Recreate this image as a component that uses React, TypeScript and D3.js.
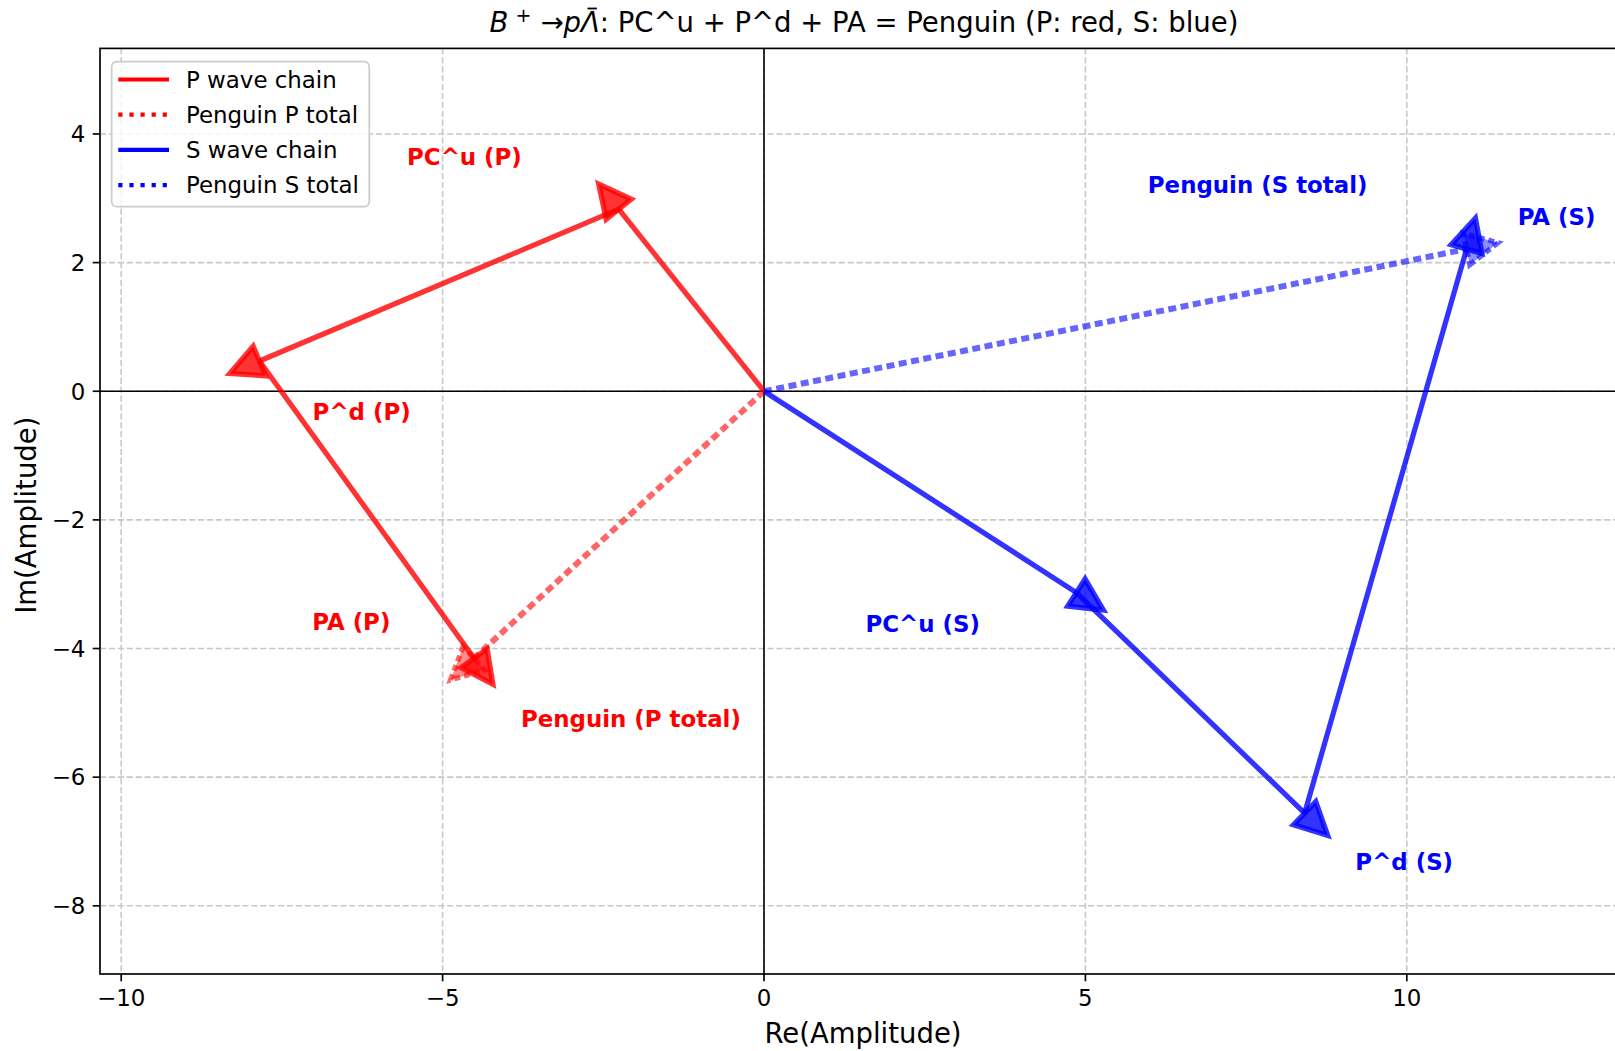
import React, { useLayoutEffect, useRef, useState } from 'react';
import * as d3 from 'd3';

const W = 1615;
const H = 1051;

const X_DOMAIN = [-10.33, 13.41];
const Y_DOMAIN = [-9.06, 5.33];
const X_TICKS = [-10, -5, 0, 5, 10];
const Y_TICKS = [-8, -6, -4, -2, 0, 2, 4];

// amplitude components (PC^u, P^d, PA)
const COMPONENTS = ['PC^u', 'P^d', 'PA'];
const P_RE = [-2.26, -5.59, 3.34];
const P_IM = [2.83, -2.36, -4.62];
const S_RE = [4.86, 3.55, 2.52];
const S_IM = [-3.13, -3.43, 8.77];

const LABEL_TEXT = ['PC^u (P)', 'P^d (P)', 'PA (P)', 'Penguin (P total)', 'PC^u (S)', 'P^d (S)', 'PA (S)', 'Penguin (S total)'];
const LABEL_X = [-4.66, -6.26, -6.42, -2.07, 2.47, 9.96, 12.33, 7.68];
const LABEL_Y = [3.64, -0.32, -3.58, -5.09, -3.61, -7.32, 2.71, 3.21];
const LABEL_COLOR = ['#ff0000', '#ff0000', '#ff0000', '#ff0000', '#0000ff', '#0000ff', '#0000ff', '#0000ff'];

const LEGEND_LABELS = ['P wave chain', 'Penguin P total', 'S wave chain', 'Penguin S total'];
const LEGEND_COLORS = ['#ff0000', '#ff0000', '#0000ff', '#0000ff'];
const LEGEND_DOTTED = [false, true, false, true];

const HEAD_WIDTH = 0.5;
const HEAD_LENGTH = 0.5;
const FONT = 'DejaVu Sans, Verdana, sans-serif';

const fmt = (v: number) => (v < 0 ? '\u2212' + Math.abs(v) : String(v));

export default function App() {
  const left = 100, right = 1626, top = 48.4, bottom = 974;
  const x = d3.scaleLinear().domain(X_DOMAIN).range([left, right]);
  const y = d3.scaleLinear().domain(Y_DOMAIN).range([bottom, top]);
  const k = x(1) - x(0);

  const titleRef = useRef<SVGTextElement | null>(null);
  const [bar, setBar] = useState<[number, number] | null>(null);
  useLayoutEffect(() => {
    const el = titleRef.current as any;
    if (el && el.getExtentOfChar) {
      try {
        const r = el.getExtentOfChar(4);
        setBar([r.x + r.width * 0.35, r.x + r.width * 0.85]);
      } catch (e) {
        /* ignore */
      }
    }
  }, []);

  const arrow = (x0: number, y0: number, x1: number, y1: number, color: string, dotted: boolean, key: string) => {
    const p0 = [x(x0), y(y0)];
    const p1 = [x(x1), y(y1)];
    const dx = p1[0] - p0[0];
    const dy = p1[1] - p0[1];
    const len = Math.hypot(dx, dy);
    const ux = dx / len, uy = dy / len;
    const px = -uy, py = ux;
    const hw = (HEAD_WIDTH / 2) * k;
    const hl = HEAD_LENGTH * k;
    const tip = [p1[0] + ux * hl, p1[1] + uy * hl];
    const b1 = [p1[0] + px * hw, p1[1] + py * hw];
    const b2 = [p1[0] - px * hw, p1[1] - py * hw];
    const op = dotted ? 0.6 : 0.8;
    const line = d3.line();
    return (
      <g key={key}>
        <path
          d={line([p0 as [number, number], p1 as [number, number]]) || ''}
          stroke={color}
          strokeOpacity={op}
          strokeWidth={dotted ? 6 : 5.2}
          strokeDasharray={dotted ? '8 4.5' : undefined}
          fill="none"
        />
        <polygon
          points={[b1, tip, b2].map((p) => p.join(',')).join(' ')}
          fill={color}
          fillOpacity={dotted ? 0.45 : op}
          stroke={color}
          strokeOpacity={op}
          strokeWidth={5.2}
          strokeLinejoin="miter"
          strokeDasharray={dotted ? '6 4' : undefined}
        />
      </g>
    );
  };

  const chain = (re: number[], im: number[], color: string, tag: string) => {
    const out: any[] = [];
    let cx = 0, cy = 0;
    re.forEach((r, i) => {
      const nx = cx + r, ny = cy + im[i];
      out.push(arrow(cx, cy, nx, ny, color, false, tag + COMPONENTS[i]));
      cx = nx; cy = ny;
    });
    out.push(arrow(0, 0, cx, cy, color, true, tag + 'total'));
    return out;
  };

  return (
    <svg width={W} height={H} style={{ position: 'absolute', left: 0, top: 0, background: '#fff' }} fontFamily={FONT}>
      <rect x={0} y={0} width={W} height={H} fill="#fff" />
      {/* grid */}
      {X_TICKS.map((t) => (
        <line key={'gx' + t} x1={x(t)} x2={x(t)} y1={top} y2={bottom} stroke="#c8c8c8" strokeWidth={1.6} strokeDasharray="6.2 2.7" />
      ))}
      {Y_TICKS.map((t) => (
        <line key={'gy' + t} x1={left} x2={right} y1={y(t)} y2={y(t)} stroke="#c8c8c8" strokeWidth={1.6} strokeDasharray="6.2 2.7" />
      ))}
      {/* zero lines */}
      <line x1={left} x2={right} y1={y(0)} y2={y(0)} stroke="#000" strokeWidth={1.6} />
      <line x1={x(0)} x2={x(0)} y1={top} y2={bottom} stroke="#000" strokeWidth={1.6} />

      {chain(P_RE, P_IM, '#ff0000', 'P')}
      {chain(S_RE, S_IM, '#0000ff', 'S')}

      {LABEL_TEXT.map((t, i) => (
        <text key={'lab' + i} x={x(LABEL_X[i])} y={y(LABEL_Y[i])} dy="0.36em" textAnchor="middle" fontSize={22.9} fontWeight="bold" fill={LABEL_COLOR[i]}>
          {t}
        </text>
      ))}

      {/* spines */}
      <rect x={left} y={top} width={right - left} height={bottom - top} fill="none" stroke="#000" strokeWidth={1.67} />

      {/* x ticks */}
      {X_TICKS.map((t) => (
        <g key={'xt' + t}>
          <line x1={x(t)} x2={x(t)} y1={bottom} y2={bottom + 7.3} stroke="#000" strokeWidth={1.67} />
          <text x={x(t)} y={1006} textAnchor="middle" fontSize={22.9} fill="#000">{fmt(t)}</text>
        </g>
      ))}
      {Y_TICKS.map((t) => (
        <g key={'yt' + t}>
          <line x1={left - 7.3} x2={left} y1={y(t)} y2={y(t)} stroke="#000" strokeWidth={1.67} />
          <text x={left - 14.6} y={y(t) + 8.3} textAnchor="end" fontSize={22.9} fill="#000">{fmt(t)}</text>
        </g>
      ))}

      {/* axis labels */}
      <text x={(left + right) / 2} y={1043} textAnchor="middle" fontSize={27.5} fill="#000">Re(Amplitude)</text>
      <text transform={`translate(36,${(top + bottom) / 2 + 4}) rotate(-90)`} textAnchor="middle" fontSize={27.5} fill="#000">Im(Amplitude)</text>

      {/* title */}
      <text ref={titleRef} x={(left + right) / 2 + 1} y={32} textAnchor="middle" fontSize={27.5} fill="#000">
        <tspan fontStyle="italic">B</tspan>
        <tspan dx={7} dy={-10} fontSize={19}>+</tspan>
        <tspan dx={9} dy={10}>{'\u2192'}</tspan>
        <tspan fontStyle="italic">p</tspan>
        <tspan fontStyle="italic">{'\u039B'}</tspan>
        <tspan>: PC^u + P^d + PA = Penguin (P: red, S: blue)</tspan>
      </text>
      {bar && <line x1={bar[0]} x2={bar[1]} y1={8.5} y2={8.5} stroke="#000" strokeWidth={1.8} />}

      {/* legend */}
      <rect x={111.7} y={61.7} width={257.6} height={145} rx={5} ry={5} fill="#fff" fillOpacity={0.8} stroke="#cccccc" strokeWidth={1.67} />
      {LEGEND_LABELS.map((l, i) => {
        const cy = 79.5 + i * 35.2;
        return (
          <g key={'lg' + i}>
            <line x1={118.3} x2={169} y1={cy} y2={cy} stroke={LEGEND_COLORS[i]} strokeWidth={4.2} strokeDasharray={LEGEND_DOTTED[i] ? '4.2 6.9' : undefined} />
            <text x={186} y={cy + 8.2} fontSize={22.9} fill="#000">{l}</text>
          </g>
        );
      })}
    </svg>
  );
}
